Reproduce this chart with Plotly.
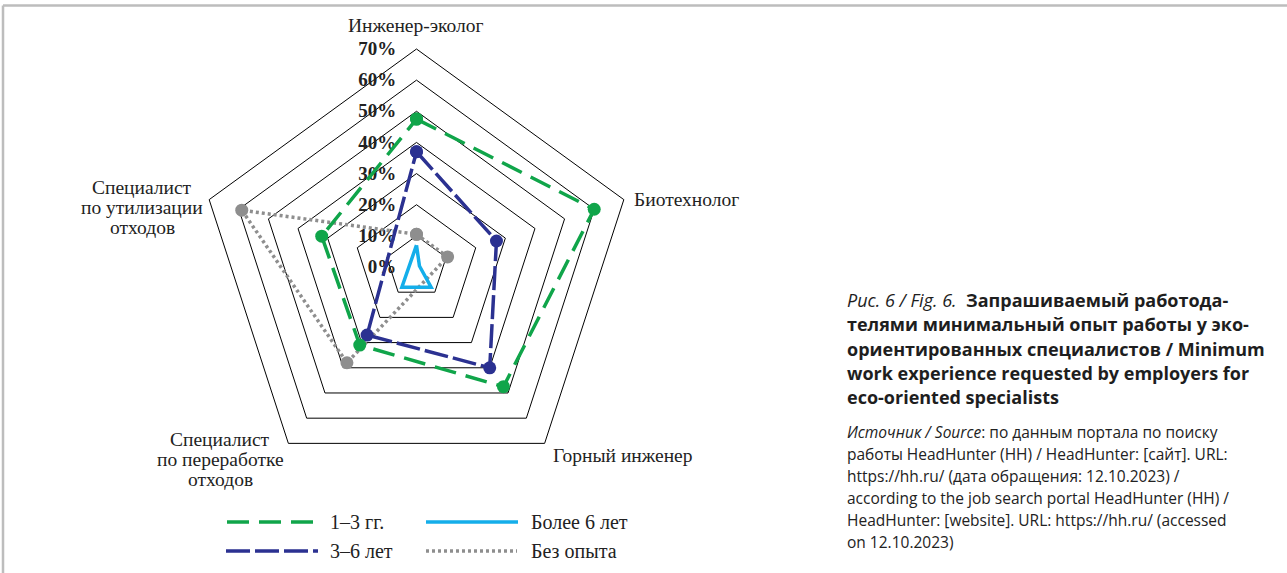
import plotly.graph_objects as go

W, H = 1287, 573

# data (percent); None = no value, line joins the neighbours
categories = ['Инженер-эколог', 'Биотехнолог', 'Горный инженер',
              'Специалист по переработке отходов',
              'Специалист по утилизации отходов']
series_names = ['1–3 гг.', '3–6 лет', 'Более 6 лет', 'Без опыта']
vals_1_3 = [47.5, 60, 47.5, 31, 32]
vals_3_6 = [37, 27, 40, 27, None]
vals_6plus = [7, 1, 8, 8, None]
vals_none = [10.5, 10.5, None, 38, 59]
tick_vals = [0, 10, 20, 30, 40, 50, 60, 70]
tick_text = ['%d%%' % v for v in tick_vals]

colors = ['#10a54a', '#2b3191', '#14aeea', '#8e8e8e']
dashes = ['22px,10px', '24px,5px', 'solid', '3px,3px']
markers = [True, True, False, True]
all_vals = [vals_1_3, vals_3_6, vals_6plus, vals_none]

serif = 'Liberation Serif'
sans = 'Open Sans'


def px(x):
    return x / W


def py(y):
    return 1 - y / H


fig = go.Figure()
# draw order: gray, cyan, navy, green
for i in [3, 2, 1, 0]:
    v = all_vals[i]
    fig.add_trace(go.Scatterpolar(
        r=v + [v[0]],
        theta=categories + [categories[0]],
        name=series_names[i],
        mode='lines+markers' if markers[i] else 'lines',
        connectgaps=True,
        line=dict(color=colors[i], width=3.5, dash=dashes[i]),
        marker=dict(size=13, color=colors[i]),
        showlegend=False,
    ))

cx, cy, R = 416.5, 267, 218
fig.update_layout(
    width=W, height=H,
    margin=dict(l=0, r=0, t=0, b=0),
    paper_bgcolor='white',
    plot_bgcolor='white',
    polar=dict(
        domain=dict(x=[px(cx - R), px(cx + R)], y=[py(cy + R), py(cy - R)]),
        bgcolor='white',
        gridshape='linear',
        radialaxis=dict(
            range=[0, 70], angle=90, tickangle=90,
            side='counterclockwise',
            tickvals=tick_vals, ticktext=tick_text,
            tickfont=dict(family=serif, size=19, color='#222', weight='bold'),
            showline=False,
            ticks='outside', ticklen=13, tickcolor='rgba(0,0,0,0)',
            gridcolor='black', gridwidth=1,
            layer='below traces',
        ),
        angularaxis=dict(
            rotation=90, direction='clockwise',
            showgrid=False, ticks='', showticklabels=False,
            showline=True, linecolor='black', linewidth=1,
            layer='below traces',
        ),
    ),
)

# category labels (centred multi-line, as in the reference)
cat_lines = [['Инженер-эколог'], ['Биотехнолог'], ['Горный инженер'],
             ['Специалист', 'по переработке', 'отходов'],
             ['Специалист', 'по утилизации', 'отходов']]
cat_pos = [(416, 25, 'center'), (632, 199, 'left'), (551, 455, 'left'),
           (220, 439, 'center'), (142, 187, 'center')]
for lines, (lx, ly, anc) in zip(cat_lines, cat_pos):
    for k, t in enumerate(lines):
        fig.add_annotation(x=px(lx), y=py(ly + 20.3 * k), xref='paper', yref='paper',
                           text=t, showarrow=False, xanchor=anc, yanchor='middle',
                           font=dict(family=serif, size=19.5, color='#222'))

# frame lines of the page
fig.add_shape(type='line', xref='paper', yref='paper',
              x0=px(3), x1=1, y0=py(5.5), y1=py(5.5),
              line=dict(color='#bdbdbd', width=2.5))
fig.add_shape(type='line', xref='paper', yref='paper',
              x0=px(3), x1=px(3), y0=py(5.5), y1=0,
              line=dict(color='#bdbdbd', width=2.5))

# hand-made legend (2 x 2)
leg_pos = [(227, 522), (226, 551), (426, 522), (426, 551)]
leg_len = [86, 92, 92, 91]
for i, (lx, ly) in enumerate(leg_pos):
    fig.add_shape(type='line', xref='paper', yref='paper',
                  x0=px(lx), x1=px(lx + leg_len[i]), y0=py(ly), y1=py(ly),
                  line=dict(color=colors[i], width=3.5, dash=dashes[i]))
    fig.add_annotation(x=px(328 if i < 2 else 529), y=py(ly), xref='paper', yref='paper',
                       text=series_names[i], showarrow=False,
                       xanchor='left', yanchor='middle',
                       font=dict(family=serif, size=20, color='#222'))

# caption
caption = ['<i>Рис. 6 / Fig. 6.</i>  <b>Запрашиваемый работода-</b>',
           '<b>телями минимальный опыт работы у эко-</b>',
           '<b>ориентированных специалистов / Minimum</b>',
           '<b>work experience requested by employers for</b>',
           '<b>eco-oriented specialists</b>']
for k, line in enumerate(caption):
    fig.add_annotation(x=px(845), y=py(300 + 24.3 * k), xref='paper', yref='paper',
                       text=line, showarrow=False, xanchor='left', yanchor='middle',
                       font=dict(family=sans, size=18, color='#1e1e1e'))

source = ['<i>Источник / Source</i>: по данным портала по поиску',
          'работы HeadHunter (HH) / HeadHunter: [сайт]. URL:',
          'https://hh.ru/ (дата обращения: 12.10.2023) /',
          'according to the job search portal HeadHunter (HH) /',
          'HeadHunter: [website]. URL: https://hh.ru/ (accessed',
          'on 12.10.2023)']
for k, line in enumerate(source):
    fig.add_annotation(x=px(845), y=py(432 + 22 * k), xref='paper', yref='paper',
                       text=line, showarrow=False, xanchor='left', yanchor='middle',
                       font=dict(family=sans, size=15.5, color='#222'))

fig.write_html('out.html', config={'displayModeBar': False},
               post_script="document.body.style.margin='0';")
